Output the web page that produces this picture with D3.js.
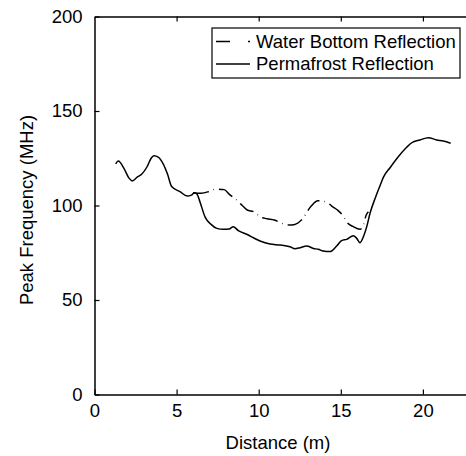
<!DOCTYPE html>
<html>
<head>
<meta charset="utf-8">
<title>Peak frequency</title>
<style>
  body { margin: 0; background: #fff; }
  text { font-family: "Liberation Sans", Arial, Helvetica, sans-serif; fill: #000; }
</style>
</head>
<body>
<script src="https://d3js.org/d3.v7.min.js"></script>
<script>
// values: [distance (m), peak frequency (MHz)]
var permafrost = [
  [1.29, 122.0], [1.45, 123.5], [1.8, 119.5], [2.1, 114.5], [2.3, 113.0], [2.6, 115.0],
  [2.87, 116.5], [3.2, 120.5], [3.45, 125.0], [3.62, 126.3], [3.9, 125.5], [4.19, 121.9],
  [4.45, 116.5], [4.7, 110.0], [5.21, 107.3], [5.65, 105.0], [5.9, 105.5], [6.08, 106.8],
  [6.25, 106.0], [6.42, 102.0], [6.73, 94.0], [7.1, 90.0], [7.44, 87.9], [7.85, 87.4],
  [8.2, 87.6], [8.45, 88.8], [8.76, 86.7], [9.37, 84.4], [9.7, 82.8], [10.08, 81.2],
  [10.69, 79.6], [11.3, 79.1], [11.9, 78.2], [12.21, 77.1], [12.52, 77.7], [12.92, 78.6],
  [13.33, 77.3], [13.63, 76.8], [13.93, 75.9], [14.34, 75.6], [14.75, 78.6], [15.05, 81.4],
  [15.36, 82.1], [15.76, 84.0], [15.97, 82.6], [16.17, 80.3], [16.4, 84.0], [16.58, 88.8],
  [16.78, 95.9], [17.1, 104.0], [17.39, 110.5], [17.59, 114.9], [18.0, 120.0], [18.5, 125.8],
  [19.01, 130.8], [19.32, 133.2], [19.82, 134.7], [20.33, 135.9], [20.84, 134.7],
  [21.24, 134.1], [21.69, 132.9]
];
var waterBottom = [
  [6.0, 106.8], [6.5, 106.5], [7.0, 107.5], [7.4, 108.7], [7.9, 108.4], [8.25, 105.6],
  [8.6, 103.4], [9.0, 100.0], [9.3, 97.6], [9.7, 96.7], [10.1, 94.0], [10.5, 93.0],
  [10.95, 92.3], [11.4, 90.6], [11.85, 89.7], [12.2, 90.0], [12.6, 92.3], [13.2, 99.7],
  [13.6, 102.5], [14.1, 102.0], [14.45, 99.7], [14.8, 97.6], [15.1, 95.0], [15.4, 90.9],
  [15.76, 88.8], [16.17, 87.4], [16.4, 90.0], [16.53, 94.6], [16.68, 96.7]
];
var xTicks = [0, 5, 10, 15, 20];
var yTicks = [0, 50, 100, 150, 200];
var legendLabels = ["Water Bottom Reflection", "Permafrost Reflection"];

var W = 466, H = 456;
var plotL = 94.5, plotT = 16.5, plotB = 394.5, plotR = 467;

var x = d3.scaleLinear().domain([0, (plotR - plotL) / 16.42]).range([plotL, plotR]);
var y = d3.scaleLinear().domain([0, 200]).range([plotB, plotT]);

var svg = d3.select("body").append("svg")
    .attr("width", W)
    .attr("height", H);

// axes, ticks pointing inwards like matlab
svg.append("g")
    .attr("transform", "translate(0," + plotB + ")")
    .call(d3.axisBottom(x).tickValues(xTicks).tickSizeInner(-5).tickSizeOuter(0).tickPadding(9))
    .call(function(g) {
      g.select(".domain").attr("stroke-width", 1.5);
      g.selectAll(".tick line").attr("stroke-width", 1.2);
      g.selectAll("text").style("font-size", "18.5px");
    });

svg.append("g")
    .attr("transform", "translate(0," + plotT + ")")
    .call(d3.axisTop(x).tickValues(xTicks.slice(1)).tickSizeInner(-5).tickSizeOuter(0).tickFormat(""))
    .call(function(g) {
      g.select(".domain").attr("stroke-width", 1.5);
      g.selectAll(".tick line").attr("stroke-width", 1.2);
    });

svg.append("g")
    .attr("transform", "translate(" + plotL + ",0)")
    .call(d3.axisLeft(y).tickValues(yTicks).tickSizeInner(-5).tickSizeOuter(0).tickPadding(12))
    .call(function(g) {
      g.select(".domain").attr("stroke-width", 1.5);
      g.selectAll(".tick line").attr("stroke-width", 1.2);
      g.selectAll("text").style("font-size", "18.5px");
    });

// axis titles
svg.append("text")
    .attr("x", 278)
    .attr("y", 449)
    .attr("text-anchor", "middle")
    .style("font-size", "18.5px")
    .text("Distance (m)");

svg.append("text")
    .attr("transform", "translate(33,210) rotate(-90)")
    .attr("text-anchor", "middle")
    .style("font-size", "18.5px")
    .text("Peak Frequency (MHz)");

var line = d3.line()
    .x(function(d) { return x(d[0]); })
    .y(function(d) { return y(d[1]); })
    .curve(d3.curveMonotoneX);

// dash-dot line, the dots are hardly visible in the original
svg.append("path")
    .datum(waterBottom)
    .attr("d", line)
    .attr("fill", "none")
    .attr("stroke", "#000")
    .attr("stroke-width", 1.5)
    .attr("stroke-dasharray", "16,5,0.6,5");

svg.append("path")
    .datum(permafrost)
    .attr("d", line)
    .attr("fill", "none")
    .attr("stroke", "#000")
    .attr("stroke-width", 1.5);

// legend
var leg = svg.append("g");
leg.append("rect")
    .attr("x", 212).attr("y", 28)
    .attr("width", 248).attr("height", 50)
    .attr("fill", "#fff")
    .attr("stroke", "#000")
    .attr("stroke-width", 1.2);

legendLabels.forEach(function(lab, i) {
  var ly = 41.5 + i * 22.5;
  leg.append("line")
      .attr("x1", 216).attr("x2", 250)
      .attr("y1", ly).attr("y2", ly)
      .attr("stroke", "#000")
      .attr("stroke-width", 1.5)
      .attr("stroke-dasharray", i === 0 ? "14,18,2,10" : null);
  leg.append("text")
      .attr("x", 256)
      .attr("y", ly)
      .attr("dy", "0.35em")
      .style("font-size", "18.5px")
      .text(lab);
});
</script>
</body>
</html>
